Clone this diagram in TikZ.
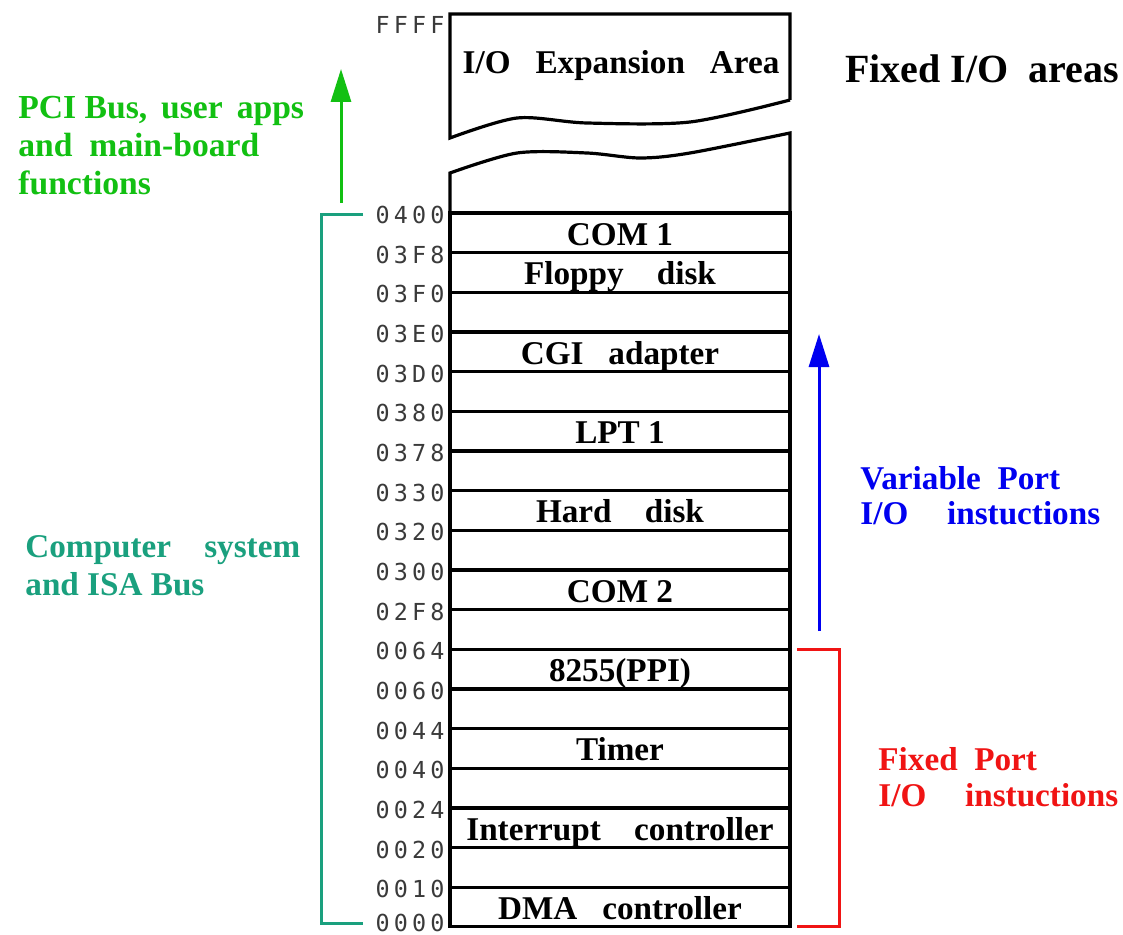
\documentclass[tikz,border=0pt]{standalone}
\usepackage{fontspec}
\setmainfont{Liberation Serif}
\newfontfamily\addrfont[LetterSpace=18]{DejaVu Sans Mono}
\usetikzlibrary{positioning,arrows.meta}
\definecolor{pciGreen}{HTML}{12C012}
\definecolor{isaTeal}{HTML}{1AA07E}
\definecolor{varBlue}{HTML}{0000F0}
\definecolor{fixRed}{HTML}{F01414}
\definecolor{addrGray}{HTML}{3A3A3A}

\begin{document}
\begin{tikzpicture}[
    x=0.5pt, y=-0.5pt,
    memline/.style={draw=black, line width=1.6pt},
    portrow/.style={memline, minimum width=170pt, minimum height=19.83pt, inner sep=0pt, outer sep=0pt,
                    text height=12.5pt, text depth=0pt, font=\fontsize{16.6}{19}\selectfont\bfseries},
    addr/.style={font=\addrfont\fontsize{11.7}{12}\selectfont, text=addrGray, inner sep=0pt},
    sidetext/.style={align=left, inner sep=0pt, anchor=north west},
    uparrow/.style={-{Triangle[length=16.5pt, width=10pt]}, line width=1.5pt},
    bracket/.style={line width=1.5pt}
]
    \path[use as bounding box, fill=white] (0,0) rectangle (1123,935);

    % port rows, stacked from 0400 down to 0000
    \coordinate (r0) at (620,213);
    \foreach \lbl [count=\i] in {{COM 1}, {Floppy\quad disk}, {}, {CGI~\enspace adapter}, {},
                                {LPT 1}, {}, {Hard\quad disk}, {}, {COM 2}, {}, {8255(PPI)}, {},
                                {Timer}, {}, {Interrupt\quad controller}, {}, {DMA~\enspace controller}} {
        \pgfmathtruncatemacro\prev{\i-1}
        \node[portrow, below=0pt of r\prev] (r\i) {\lbl};
    }

    % addresses on the left of each line
    \foreach \a [count=\i] in {0400,03F8,03F0,03E0,03D0,0380,0378,0330,0320,0300,02F8,
                              0064,0060,0044,0040,0024,0020,0010}
        \node[addr, left=2.5pt of r\i.north west, yshift=-1pt] (a\i) {\a};
    \node[addr, left=2.5pt of r18.south west, yshift=1.8pt] (a19) {0000};

    % I/O expansion area with the torn edges
    \coordinate (exptl) at (450,14);
    \draw[memline] (790,100) -- (790,14) -- (exptl) -- (450,138)
        -- plot[smooth, tension=0.5] coordinates {(450,138) (517,118) (587,123) (690,122) (790,100)};
    \draw[memline] (r1.north west) -- (450,173)
        -- plot[smooth, tension=0.5] coordinates {(450,173) (517,153) (587,153) (640,158) (690,153) (790,133)}
        -- (r1.north east);
    \node[font=\fontsize{16.6}{19}\selectfont\bfseries, anchor=base] (exptxt) at (621,74)
        {I/O~\enspace Expansion~\enspace Area};
    \node[addr, anchor=north east] (ffff) at ([xshift=-2.5pt, yshift=-1pt]exptl) {FFFF};

    \node[font=\fontsize{20}{22}\selectfont\bfseries, anchor=base west, inner sep=0pt] (fixhead)
        at (845,83) {Fixed I/O\ \ areas};

    % left side: buses
    \coordinate (pcibase) at (341,203);
    \coordinate (pcitip) at (341,69);
    \draw[uparrow, pciGreen] (pcibase) -- (pcitip);
    \node[sidetext, text=pciGreen, font=\fontsize{16.8}{19}\selectfont\bfseries] (pcitxt) at (18,96)
        {PCI Bus,\, user\, apps\\and\enspace main-board\\functions};

    \draw[bracket, isaTeal] ([xshift=-6pt]a1.west) -- ++(-42,0) |- ([xshift=-6pt]a19.west);
    \node[sidetext, text=isaTeal, font=\fontsize{16.6}{19}\selectfont\bfseries] (isatxt) at (25,535)
        {Computer\quad system\\and ISA Bus};

    % right side: port instructions
    \coordinate (varbase) at (819,631);
    \coordinate (vartip) at (819,334);
    \draw[uparrow, varBlue] (varbase) -- (vartip);
    \node[sidetext, text=varBlue, font=\fontsize{16.6}{17.5}\selectfont\bfseries] (vartxt) at (860,466)
        {Variable\enspace Port\\I/O\quad\,instuctions};

    \draw[bracket, fixRed] ([xshift=3.5pt]r12.north east) -- ++(42,0) |- ([xshift=3.5pt]r18.south east);
    \node[sidetext, text=fixRed, font=\fontsize{16.6}{18}\selectfont\bfseries] (fixtxt) at (878,747)
        {Fixed\enspace Port\\I/O\quad\,instuctions};
\end{tikzpicture}
\end{document}
